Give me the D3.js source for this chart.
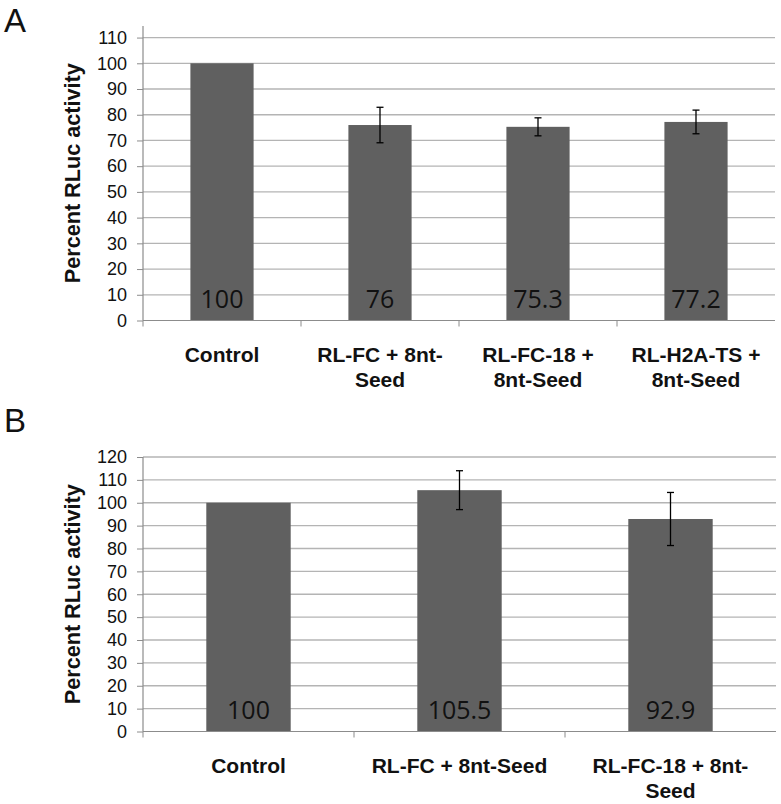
<!DOCTYPE html>
<html>
<head>
<meta charset="utf-8">
<script src="https://cdn.jsdelivr.net/npm/d3@7"></script>
<style>
  html, body { margin: 0; padding: 0; background: #fff; }
  svg { display: block; }
</style>
</head>
<body>
<svg id="chart" width="781" height="804"></svg>
<script>
// ---- Data ----
const categoriesA = [["Control"], ["RL-FC + 8nt-", "Seed"], ["RL-FC-18 +", "8nt-Seed"], ["RL-H2A-TS +", "8nt-Seed"]];
const valuesA = [100, 76, 75.3, 77.2];
const labelsA = ["100", "76", "75.3", "77.2"];
const errorsA = [null, 6.9, 3.5, 4.6];
const ticksA = [0, 10, 20, 30, 40, 50, 60, 70, 80, 90, 100, 110];

const categoriesB = [["Control"], ["RL-FC + 8nt-Seed"], ["RL-FC-18 + 8nt-", "Seed"]];
const valuesB = [100, 105.5, 92.9];
const labelsB = ["100", "105.5", "92.9"];
const errorsB = [null, 8.5, 11.6];
const ticksB = [0, 10, 20, 30, 40, 50, 60, 70, 80, 90, 100, 110, 120];

const yTitle = "Percent RLuc activity";

const svg = d3.select("#chart");

function drawPanel(opt) {
  const g = svg.append("g");
  const x = d3.scaleBand()
    .domain(d3.range(opt.values.length))
    .range([opt.left, opt.right])
    .paddingInner(0.6).paddingOuter(0.3);
  const y = d3.scaleLinear().domain([0, opt.yMax]).range([opt.bottom, opt.top]);

  // gridlines
  g.append("g").selectAll("line").data(opt.ticks.filter(t => t > 0)).join("line")
    .attr("x1", opt.left).attr("x2", opt.right)
    .attr("y1", d => y(d)).attr("y2", d => y(d))
    .attr("stroke", "#b4b4b4").attr("stroke-width", 1.3);

  // bars
  g.append("g").selectAll("rect").data(opt.values).join("rect")
    .attr("x", (d, i) => x(i))
    .attr("width", x.bandwidth())
    .attr("y", d => y(d))
    .attr("height", d => y(0) - y(d))
    .attr("fill", "#606060");

  // value labels
  g.append("g").selectAll("text").data(opt.labels).join("text")
    .attr("x", (d, i) => x(i) + x.bandwidth() / 2)
    .attr("y", y(0) - 13)
    .attr("text-anchor", "middle")
    .attr("font-family", "'Open Sans', 'Noto Sans', sans-serif")
    .attr("font-size", 25)
    .attr("fill", "#111")
    .text(d => d);

  // error bars
  const eb = g.append("g").attr("stroke", "#000").attr("stroke-width", 1.3);
  opt.errors.forEach((e, i) => {
    if (e == null) return;
    const cx = x(i) + x.bandwidth() / 2;
    const v = opt.values[i];
    eb.append("line").attr("x1", cx).attr("x2", cx).attr("y1", y(v + e)).attr("y2", y(v - e));
    eb.append("line").attr("x1", cx - 3.5).attr("x2", cx + 3.5).attr("y1", y(v + e)).attr("y2", y(v + e));
    eb.append("line").attr("x1", cx - 3.5).attr("x2", cx + 3.5).attr("y1", y(v - e)).attr("y2", y(v - e));
  });

  // y axis
  const yAxis = d3.axisLeft(y).tickValues(opt.ticks).tickSize(6).tickPadding(10);
  const ya = g.append("g").attr("transform", `translate(${opt.left},0)`).call(yAxis);
  ya.select(".domain").remove();
  ya.selectAll(".tick line").attr("stroke", "#8c8c8c");
  ya.selectAll(".tick text")
    .attr("font-family", "'Liberation Sans', Arial, sans-serif")
    .attr("font-size", 18).attr("fill", "#111");
  g.append("line")
    .attr("x1", opt.left).attr("x2", opt.left)
    .attr("y1", opt.top).attr("y2", y(0))
    .attr("stroke", "#8c8c8c").attr("stroke-width", 1.2);

  // x axis
  g.append("line")
    .attr("x1", opt.left).attr("x2", opt.right)
    .attr("y1", y(0)).attr("y2", y(0))
    .attr("stroke", "#8c8c8c").attr("stroke-width", 1.2);
  const step = x.step();
  const bounds = d3.range(opt.values.length).map(i => x(i) - step * 0.3);
  g.append("g").selectAll("line").data(bounds).join("line")
    .attr("x1", d => d).attr("x2", d => d)
    .attr("y1", y(0)).attr("y2", y(0) + 6)
    .attr("stroke", "#8c8c8c");

  // category labels
  const cl = g.append("g").selectAll("text").data(opt.categories).join("text")
    .attr("text-anchor", "middle")
    .attr("font-family", "'Liberation Sans', Arial, sans-serif")
    .attr("font-weight", "bold")
    .attr("font-size", 21)
    .attr("fill", "#111");
  cl.each(function(lines, i) {
    const t = d3.select(this);
    lines.forEach((ln, k) => {
      t.append("tspan")
        .attr("x", x(i) + x.bandwidth() / 2)
        .attr("y", y(0) + 41 + k * 25.5)
        .text(ln);
    });
  });

  // y title
  g.append("text")
    .attr("transform", `translate(${opt.titleX},${(opt.top + y(0)) / 2}) rotate(-90)`)
    .attr("text-anchor", "middle")
    .attr("font-family", "'Liberation Sans', Arial, sans-serif")
    .attr("font-weight", "bold")
    .attr("font-size", 22)
    .attr("textLength", 220)
    .attr("lengthAdjust", "spacingAndGlyphs")
    .attr("fill", "#111")
    .text(yTitle);

  // panel letter
  g.append("text")
    .attr("x", 4).attr("y", opt.letterY)
    .attr("font-family", "'Liberation Sans', Arial, sans-serif")
    .attr("font-size", 33)
    .attr("fill", "#111")
    .text(opt.letter);
}

drawPanel({
  categories: categoriesA, values: valuesA, labels: labelsA, errors: errorsA, ticks: ticksA,
  yMax: 114.5, left: 143, right: 775, top: 26, bottom: 320.5,
  titleX: 80, letter: "A", letterY: 32
});

drawPanel({
  categories: categoriesB, values: valuesB, labels: labelsB, errors: errorsB, ticks: ticksB,
  yMax: 120, left: 143, right: 776, top: 457, bottom: 731.5,
  titleX: 80, letter: "B", letterY: 432
});
</script>
</body>
</html>
